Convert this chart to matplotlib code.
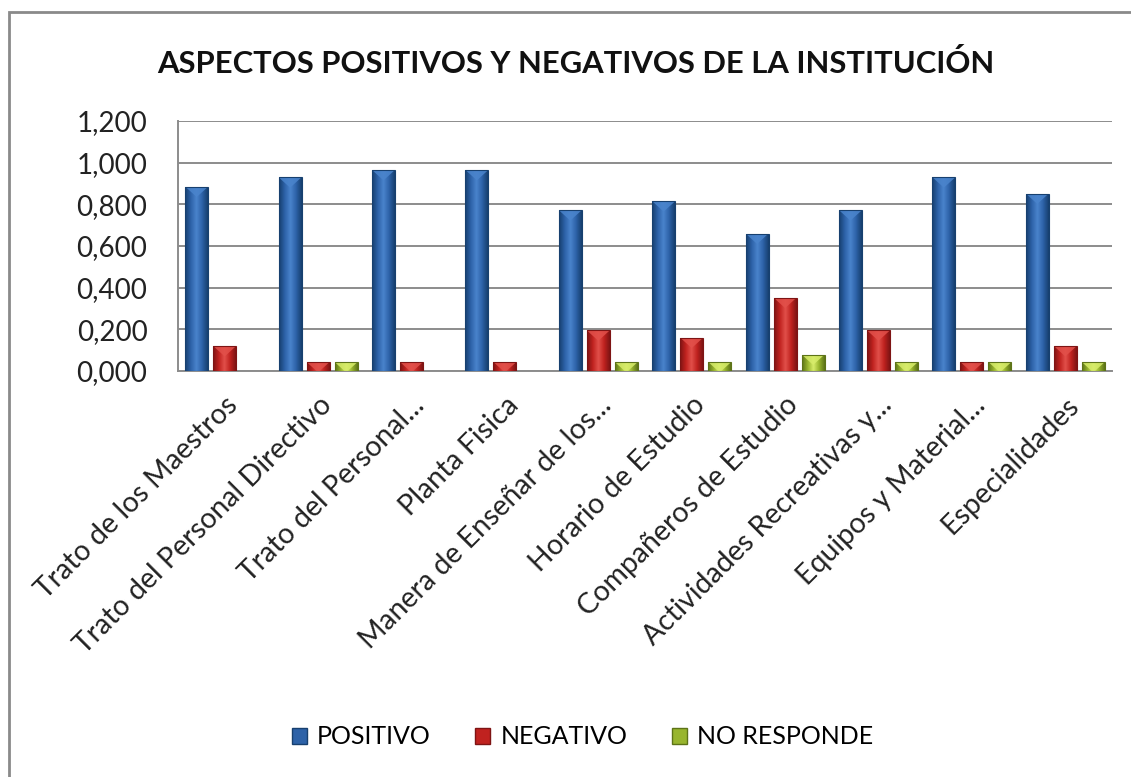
import numpy as np
import matplotlib.pyplot as plt
from matplotlib.patches import Rectangle, Polygon, Patch
from matplotlib.colors import LinearSegmentedColormap
from matplotlib.ticker import FuncFormatter

plt.rcParams['font.family'] = ['Lato', 'DejaVu Sans']

categories = ['Trato de los Maestros', 'Trato del Personal Directivo', 'Trato del Personal...',
              'Planta Fisica', 'Manera de Enseñar de los...', 'Horario de Estudio',
              'Compañeros de Estudio', 'Actividades Recreativas y...', 'Equipos y Material...',
              'Especialidades']
positivo = [0.885, 0.930, 0.965, 0.965, 0.772, 0.815, 0.660, 0.772, 0.930, 0.852]
negativo = [0.120, 0.043, 0.043, 0.043, 0.195, 0.160, 0.352, 0.195, 0.043, 0.120]
no_responde = [0.0, 0.043, 0.0, 0.0, 0.043, 0.043, 0.079, 0.043, 0.043, 0.043]
series_names = ['POSITIVO', 'NEGATIVO', 'NO RESPONDE']

# (dark edge, mid, highlight)
palettes = [('#17406f', '#2d62a8', '#4a84cc'),
            ('#7e1414', '#c0221f', '#e2504a'),
            ('#5d7318', '#98b52e', '#d7ec6a')]


def fancy_bar(ax, x, h, w, pal):
    if h <= 0:
        return
    dark, mid, light = pal
    cmap = LinearSegmentedColormap.from_list('g', [dark, mid, light, mid, dark])
    grad = np.linspace(0, 1, 64).reshape(1, -1)
    rect = Rectangle((x - w / 2, 0), w, h, facecolor='none', edgecolor=dark, lw=0.8, zorder=4)
    ax.add_patch(rect)
    im = ax.imshow(grad, cmap=cmap, aspect='auto', extent=(x - w / 2, x + w / 2, 0, h),
                   zorder=3, interpolation='bilinear')
    im.set_clip_path(rect)
    tri = Polygon([(x - w / 2, h), (x + w / 2, h), (x, h - 0.05)], closed=True,
                  facecolor=light, edgecolor='none', alpha=0.85, zorder=3.5)
    ax.add_patch(tri)
    tri.set_clip_path(rect)


fig = plt.figure(figsize=(11.31, 7.77), dpi=100)
ax = fig.add_axes([178 / 1131, 1 - 371 / 777, (1112 - 178) / 1131, (371 - 121) / 777])

x = np.arange(len(categories))
width = 0.245
step = 0.30
for i, vals in enumerate([positivo, negativo, no_responde]):
    for xi, v in zip(x, vals):
        fancy_bar(ax, xi + (i - 1) * step, v, width, palettes[i])

ax.set_xlim(-0.5, len(categories) - 0.5)
ax.set_ylim(0, 1.2)
ax.set_yticks(np.arange(0, 1.21, 0.2))
ax.yaxis.set_major_formatter(FuncFormatter(lambda v, p: f'{v:.3f}'.replace('.', ',')))
ax.yaxis.grid(True, color='#8c8c8c', lw=1.4)
ax.set_axisbelow(True)
for s in ['top', 'right']:
    ax.spines[s].set_visible(False)
for s in ['left', 'bottom']:
    ax.spines[s].set_color('#8c8c8c')
    ax.spines[s].set_linewidth(1.4)
ax.tick_params(axis='y', length=0, labelsize=20, colors='#222222', pad=22)
ax.tick_params(axis='x', length=0, pad=15)
ax.set_xticks(x)
ax.set_xticklabels(categories, rotation=45, ha='right', va='top', rotation_mode='anchor',
                   fontsize=20.5, color='#222222')

fig.text(0.509, 0.918, 'ASPECTOS POSITIVOS Y NEGATIVOS DE LA INSTITUCIÓN',
         ha='center', va='center', fontsize=22.3, fontweight='bold', color='#111111')

handles = [Patch(facecolor=p[1], edgecolor=p[0]) for p in palettes]
fig.legend(handles, series_names, loc='center', bbox_to_anchor=(0.515, 0.0515), ncol=3,
           frameon=False, fontsize=18, handlelength=0.6, handleheight=0.6,
           columnspacing=1.8, handletextpad=0.4)

fig.add_artist(Rectangle((9 / 1131, -0.1), 1.2, 1.1 - 12 / 777, transform=fig.transFigure,
                         facecolor='none', edgecolor='#8a8a8a', lw=2))

fig.savefig('out.png', dpi=100)
